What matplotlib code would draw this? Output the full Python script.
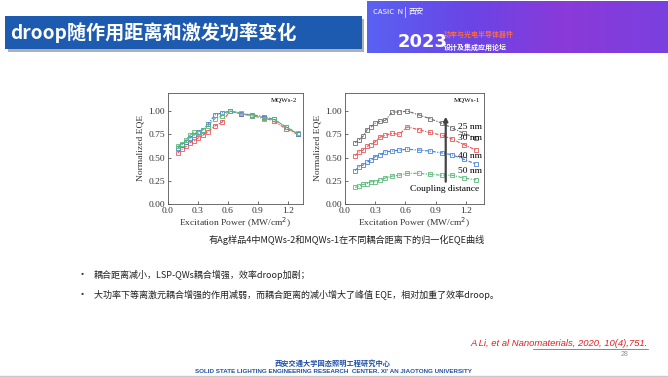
import matplotlib
matplotlib.use("Agg")
import matplotlib.pyplot as plt
from matplotlib.patches import Rectangle
from matplotlib.colors import LinearSegmentedColormap
import numpy as np

plt.rcParams['font.family'] = ['Noto Sans CJK SC', 'DejaVu Sans']

# excitation power (MW/cm2)
power = [0.10, 0.14, 0.18, 0.22, 0.26, 0.30, 0.35, 0.40, 0.47, 0.54,
         0.62, 0.73, 0.84, 0.96, 1.06, 1.18, 1.30]

# MQWs-2 (left panel)
mqw2_blue = [0.60, 0.64, 0.67, 0.71, 0.74, 0.78, 0.80, 0.86, 0.96, 0.98,
             1.00, 0.97, 0.96, 0.94, 0.91, 0.83, 0.75]
mqw2_red = [0.55, 0.59, 0.62, 0.66, 0.68, 0.71, 0.74, 0.78, 0.84, 0.88,
            1.00, 0.97, 0.95, 0.93, 0.89, 0.81, 0.75]
mqw2_green = [0.62, 0.65, 0.69, 0.74, 0.77, 0.76, 0.80, 0.84, 0.92, 0.95,
              1.00, 0.98, 0.95, 0.92, 0.91, 0.83, 0.76]

# MQWs-1 (right panel), coupling distance 25/30/40/50 nm
mqw1_25 = [0.66, 0.69, 0.73, 0.80, 0.83, 0.87, 0.89, 0.90, 0.99, 0.99,
           1.00, 0.96, 0.92, 0.87, 0.82, 0.76, 0.71]
mqw1_30 = [0.52, 0.56, 0.58, 0.62, 0.64, 0.67, 0.72, 0.74, 0.76, 0.75,
           0.83, 0.80, 0.77, 0.74, 0.70, 0.64, 0.58]
mqw1_40 = [0.36, 0.40, 0.42, 0.45, 0.47, 0.51, 0.53, 0.56, 0.57, 0.58,
           0.59, 0.58, 0.57, 0.55, 0.53, 0.48, 0.43]
mqw1_50 = [0.18, 0.19, 0.21, 0.22, 0.24, 0.24, 0.26, 0.28, 0.30, 0.31,
           0.33, 0.33, 0.32, 0.31, 0.31, 0.28, 0.26]
distance_labels = ['25 nm', '30 nm', '40 nm', '50 nm']
label_y = [0.83, 0.705, 0.52, 0.36]

yticks = [0.00, 0.25, 0.50, 0.75, 1.00]
xticks = [0.0, 0.3, 0.6, 0.9, 1.2]

c_black = '#707070'
c_red = '#e8585a'
c_blue = '#4a82d8'
c_green = '#5cba7c'

fig = plt.figure(figsize=(6.68, 3.77), dpi=100)
fig.patch.set_facecolor('white')

# slide decorations (pixel coords)
deco = fig.add_axes([0, 0, 1, 1], zorder=0)
deco.set_xlim(0, 668)
deco.set_ylim(377, 0)
deco.axis('off')

deco.add_patch(Rectangle((8, 19), 356, 33, color='#b0b0b0', lw=0))
deco.add_patch(Rectangle((5, 16), 357, 33, color='#1d5bb0', lw=0))
deco.text(10, 32.5, 'droop随作用距离和激发功率变化', color='white', fontsize=13.8,
          fontweight='bold', va='center', ha='left')

cmap = LinearSegmentedColormap.from_list('ban', ['#5a62f2', '#6a45e6', '#8a3ad8', '#7a40e0'])
grad = np.linspace(0, 1, 256).reshape(1, -1)
deco.imshow(grad, cmap=cmap, extent=(367, 668, 53, 1), aspect='auto', zorder=1)
deco.text(373, 12, 'CASIC  N', color='white', fontsize=5.5, va='center', ha='left', zorder=2)
deco.plot([405, 405], [7, 17], color='white', lw=0.5, zorder=2)
deco.text(409, 12, '西安', color='white', fontsize=5.5, va='center', ha='left', zorder=2)
deco.text(398, 42, '2023', color='white', fontsize=13, fontweight='bold',
          va='center', ha='left', family='DejaVu Sans', zorder=2)
deco.text(444, 34, '功率与光电半导体器件', color='#ff6a3a', fontsize=5, fontweight='bold',
          va='center', ha='left', zorder=2)
deco.text(444, 47, '设计及集成应用论坛', color='white', fontsize=5, fontweight='bold',
          va='center', ha='left', zorder=2)

deco.text(347, 240, '有Ag样品4中MQWs-2和MQWs-1在不同耦合距离下的归一化EQE曲线',
          fontsize=6.6, ha='center', va='center', color='#222222')

deco.text(77, 275, '•', fontsize=8, ha='left', va='center', color='#333333')
deco.text(94, 275, '耦合距离减小，LSP-QWs耦合增强，效率droop加剧；',
          fontsize=6.5, ha='left', va='center', color='#222222')
deco.text(77, 295, '•', fontsize=8, ha='left', va='center', color='#333333')
deco.text(94, 295, '大功率下等离激元耦合增强的作用减弱，而耦合距离的减小增大了峰值 EQE，相对加重了效率droop。',
          fontsize=6.5, ha='left', va='center', color='#222222')

deco.text(648, 344, 'A Li, et al Nanomaterials, 2020, 10(4),751.', fontsize=6.8,
          style='italic', color='#e02020', ha='right', va='center', family='Liberation Sans')
deco.plot([533, 648], [348.5, 348.5], color='#e02020', lw=0.5)
deco.text(628, 354, '28', fontsize=5, color='#909090', ha='right', va='center',
          family='Liberation Sans')

deco.text(333, 363, '西安交通大学固态照明工程研究中心', fontsize=5.2, fontweight='bold',
          color='#1f4fa8', ha='center', va='center')
deco.text(333, 371.5, "SOLID STATE LIGHTING ENGINEERING RESEARCH  CENTER. XI' AN JIAOTONG UNIVERSITY",
          fontsize=4.5, fontweight='bold', color='#1f4fa8', ha='center', va='center',
          family='Liberation Sans')
deco.plot([0, 668], [376, 376], color='#c8c8c8', lw=1)


def style_axes(ax, xmax):
    ax.set_xlim(0, xmax)
    ax.set_ylim(0, 1.2)
    ax.set_xticks(xticks)
    ax.set_xticklabels([f'{v:.1f}' for v in xticks])
    ax.set_yticks(yticks)
    ax.set_yticklabels([f'{v:.2f}' for v in yticks])
    ax.tick_params(direction='in', length=2.5, width=0.5, labelsize=6.8,
                   colors='#333333', pad=2)
    for s in ax.spines.values():
        s.set_linewidth(0.6)
        s.set_color('#555555')
    for lab in ax.get_xticklabels() + ax.get_yticklabels():
        lab.set_family('Liberation Serif')
    ax.set_xlabel('Excitation Power (MW/cm$^2$)', fontsize=6.8, family='Liberation Serif',
                  color='#333333', labelpad=1)
    ax.set_ylabel('Normalized EQE', fontsize=6.8, family='Liberation Serif',
                  color='#333333', labelpad=3)


line_kw = dict(ls=(0, (3, 1.2, 1, 1.2)), lw=0.85, marker='s', ms=3, mfc='none', mew=0.6)

ax1 = fig.add_axes([168 / 668, 1 - 204 / 377, 135 / 668, 111.5 / 377])
ax1.plot(power, mqw2_red, color=c_red, **line_kw)
ax1.plot(power, mqw2_blue, color=c_blue, **line_kw)
ax1.plot(power, mqw2_green, color=c_green, **line_kw)
style_axes(ax1, 1.35)
ax1.text(0.96, 0.93, 'MQWs-2', transform=ax1.transAxes, fontsize=5,
         family='Liberation Serif', ha='right', va='center')

ax2 = fig.add_axes([345 / 668, 1 - 204 / 377, 139 / 668, 111.5 / 377])
for ys, col in zip([mqw1_25, mqw1_30, mqw1_40, mqw1_50], [c_black, c_red, c_blue, c_green]):
    ax2.plot(power, ys, color=col, **line_kw)
style_axes(ax2, 1.38)
ax2.text(0.97, 0.93, 'MQWs-1', transform=ax2.transAxes, fontsize=5,
         family='Liberation Serif', ha='right', va='center')
for lab, yv in zip(distance_labels, label_y):
    ax2.text(1.12, yv, lab, fontsize=6.8, family='Liberation Serif', ha='left', va='center')
ax2.text(0.99, 0.16, 'Coupling distance', fontsize=6.8, family='Liberation Serif',
         ha='center', va='center')
ax2.annotate('', xy=(1.0, 0.97), xytext=(1.0, 0.21),
             arrowprops=dict(arrowstyle='-|>', color='#444444', lw=1.6,
                             mutation_scale=6))

fig.savefig('out.png', dpi=100)
